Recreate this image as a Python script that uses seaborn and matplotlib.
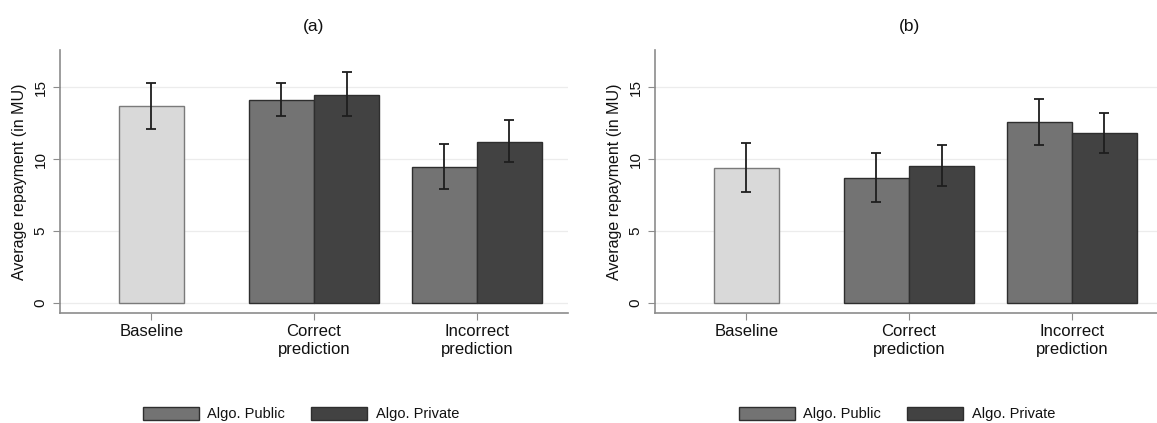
import matplotlib
matplotlib.use("Agg")
import pandas as pd
import matplotlib.pyplot as plt
import seaborn as sns

# ===== data =====
conditions = ["Baseline", "Correct\nprediction", "Incorrect\nprediction"]
treatments = ["Algo. Public", "Algo. Private"]
panel_titles = ["(a)", "(b)"]

# panel (a)
a_base_mean, a_base_lo, a_base_hi = 13.7, 12.1, 15.3
a_public_mean = [14.1, 9.45]
a_public_lo = [13.0, 7.9]
a_public_hi = [15.3, 11.05]
a_private_mean = [14.5, 11.2]
a_private_lo = [13.0, 9.8]
a_private_hi = [16.1, 12.7]

# panel (b)
b_base_mean, b_base_lo, b_base_hi = 9.4, 7.7, 11.1
b_public_mean = [8.7, 12.6]
b_public_lo = [7.05, 11.0]
b_public_hi = [10.4, 14.2]
b_private_mean = [9.55, 11.8]
b_private_lo = [8.15, 10.45]
b_private_hi = [11.0, 13.2]

yticks = [0, 5, 10, 15]

panels = [
    (a_base_mean, a_base_lo, a_base_hi, a_public_mean, a_public_lo, a_public_hi,
     a_private_mean, a_private_lo, a_private_hi),
    (b_base_mean, b_base_lo, b_base_hi, b_public_mean, b_public_lo, b_public_hi,
     b_private_mean, b_private_lo, b_private_hi),
]

# ===== style =====
sns.set_style("white")
plt.rcParams["font.family"] = ["Liberation Sans", "DejaVu Sans"]
plt.rcParams["text.color"] = "#111111"
plt.rcParams["axes.labelcolor"] = "#111111"
plt.rcParams["xtick.color"] = "#111111"
plt.rcParams["ytick.color"] = "#111111"

base_color = "#d9d9d9"
colors = ["#737373", "#424242"]
err_color = "#1e1e1e"
spine_color = "#8c8c8c"

fig = plt.figure(figsize=(11.57, 4.23), dpi=100)
W, H = 1157, 423
axes_px = [(60, 50, 508, 263), (655, 50, 508, 263)]
legend_x = [301, 897]

for k, (bm, bl, bh, pm, pl, ph, vm, vl, vh) in enumerate(panels):
    x0, y0, w, h = axes_px[k]
    ax = fig.add_axes([x0 / W, (H - y0 - h) / H, w / W, h / H])

    base_df = pd.DataFrame({"condition": [conditions[0]], "mean": [bm]})
    algo_df = pd.DataFrame({
        "condition": conditions[1:] * 2,
        "treatment": [treatments[0]] * 2 + [treatments[1]] * 2,
        "mean": pm + vm,
    })

    sns.barplot(data=base_df, x="condition", y="mean", order=conditions,
                color=base_color, width=0.4, edgecolor="#7a7a7a", linewidth=1,
                errorbar=None, ax=ax, saturation=1)
    sns.barplot(data=algo_df, x="condition", y="mean", hue="treatment",
                order=conditions, hue_order=treatments, palette=colors,
                width=0.8, edgecolor="#2e2e2e", linewidth=1, errorbar=None,
                ax=ax, saturation=1)

    # confidence intervals
    ax.errorbar([0], [bm], yerr=[[bm - bl], [bh - bm]], fmt="none",
                ecolor=err_color, elinewidth=1.3, capsize=3.5, capthick=1.3)
    for j in range(2):
        ax.errorbar([j + 1 - 0.2], [pm[j]], yerr=[[pm[j] - pl[j]], [ph[j] - pm[j]]],
                    fmt="none", ecolor=err_color, elinewidth=1.3, capsize=3.5, capthick=1.3)
        ax.errorbar([j + 1 + 0.2], [vm[j]], yerr=[[vm[j] - vl[j]], [vh[j] - vm[j]]],
                    fmt="none", ecolor=err_color, elinewidth=1.3, capsize=3.5, capthick=1.3)

    ax.set_xlim(-0.56, 2.56)
    ax.set_ylim(-0.7, 17.6)
    ax.set_yticks(yticks)
    ax.set_yticklabels([str(t) for t in yticks], rotation=90, va="center", fontsize=11)
    ax.tick_params(axis="x", bottom=True, labelsize=12, length=5, color=spine_color, pad=3)
    ax.tick_params(axis="y", left=True, length=5, color=spine_color, pad=4)
    ax.yaxis.grid(True, color="#ececec", linewidth=0.9)
    ax.set_axisbelow(True)
    for s in ["top", "right"]:
        ax.spines[s].set_visible(False)
    for s in ["left", "bottom"]:
        ax.spines[s].set_color(spine_color)
        ax.spines[s].set_linewidth(1.2)

    ax.set_xlabel("")
    ax.set_ylabel("Average repayment (in MU)", fontsize=11.5, labelpad=5)
    ax.set_title(panel_titles[k], fontsize=12.5, pad=14)

    handles, labels = ax.get_legend_handles_labels()
    if ax.get_legend() is not None:
        ax.get_legend().remove()
    ax.legend(handles, labels, loc="center",
              bbox_to_anchor=(legend_x[k] / W, 9 / H),
              bbox_transform=fig.transFigure, ncol=2, frameon=False,
              fontsize=10.5, handlelength=3.8, handleheight=1.0,
              handletextpad=0.6, columnspacing=1.8)

fig.savefig("out.png", dpi=100)
